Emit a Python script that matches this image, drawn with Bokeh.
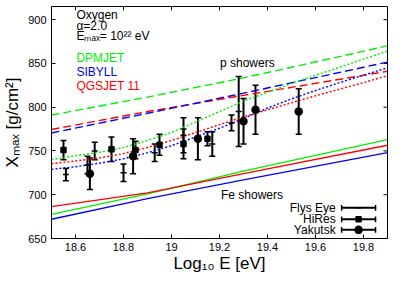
import numpy as np
from bokeh.plotting import figure
from bokeh.models import (Range1d, FixedTicker, CustomJSTickFormatter,
                          Label, Whisker, TeeHead, ColumnDataSource)
from bokeh.embed import file_html
from bokeh.resources import INLINE

# ---------------- data ----------------
X_TICKS = [18.6, 18.8, 19.0, 19.2, 19.4, 19.6, 19.8]
Y_TICKS = [650, 700, 750, 800, 850, 900]

# Fe showers (solid)
FE_X = [18.5, 18.9, 19.3, 19.9]
FE_DPMJET = [677.5, 701, 727, 763]
FE_QGSJET = [686.5, 702, 724, 756.5]
FE_SIBYLL = [672, 695.5, 717, 748]

# p showers (dashed)
P_X = [18.5, 18.9, 19.3, 19.9]
P_DPMJET = [791, 811.5, 833.5, 870]
P_QGSJET = [774.5, 795, 813.5, 841]
P_SIBYLL = [770.5, 793, 816, 851.5]

# mixed composition (dotted)
MIX_X = [18.5, 18.6, 18.7, 18.8, 18.9, 19.0, 19.1, 19.2, 19.3, 19.4, 19.5, 19.6, 19.7, 19.8, 19.9]
MIX_DPMJET = [740, 744.5, 748.5, 754, 762, 771, 783, 795, 807, 817, 827, 836.5, 845.5, 855, 864]
MIX_QGSJET = [735.5, 738.5, 742, 747, 754, 762, 771, 780, 789, 797, 805, 813, 820.5, 828, 836]
MIX_SIBYLL = [729, 732, 736, 741, 748, 756, 766, 776, 787, 799, 809.5, 819, 828, 836.5, 845]

# measurements
FLY_X = [18.56, 18.65, 18.68, 18.80, 18.93, 19.05, 19.17, 19.25, 19.28]
FLY_Y = [723, 734, 750, 725, 748, 768, 758, 782, 795]
FLY_E = [7, 10, 10, 10, 10, 20, 14, 9, 40]

HIRES_X = [18.55, 18.75, 18.85, 18.95, 19.05, 19.15]
HIRES_Y = [751, 752, 751, 757, 758, 764]
HIRES_E = [11, 14, 10, 12, 17, 8]

YAK_X = [18.66, 18.84, 19.11, 19.30, 19.35, 19.53]
YAK_Y = [724, 744, 764, 784, 797, 795]
YAK_E = [18, 20, 24, 26, 28, 26]

GREEN, BLUE, RED = "#00ee00", "#0000ff", "#ff0000"
FONT = "Liberation Sans"

# ---------------- figure ----------------
p = figure(width=399, height=275, output_backend="svg", toolbar_location=None,
           x_range=Range1d(18.5, 19.9), y_range=Range1d(650, 915),
           min_border_left=50, min_border_right=12, min_border_top=6,
           min_border_bottom=34)
p.grid.visible = False
p.outline_line_color = "black"
p.outline_line_width = 1
p.background_fill_color = "white"
p.border_fill_color = "white"

# frame-relative helper ranges for annotations
p.extra_x_ranges = {"fx": Range1d(0, 337)}
p.extra_y_ranges = {"fy": Range1d(0, 242)}

for ax in (p.xaxis[0], p.yaxis[0]):
    ax.major_tick_in = 4
    ax.major_tick_out = 0
    ax.minor_tick_line_color = None
    ax.axis_line_color = "black"
    ax.major_tick_line_color = "black"
    ax.major_label_text_font = FONT
    ax.major_label_text_color = "black"
    ax.major_label_standoff = 5
    ax.major_label_text_font_size = "11px"
    ax.axis_label_text_font = FONT
    ax.axis_label_text_font_style = "normal"
    ax.axis_label_text_font_size = "17px"
    ax.axis_label_text_color = "black"
    ax.axis_label_standoff = 3

p.xaxis[0].ticker = FixedTicker(ticks=X_TICKS)
p.xaxis[0].formatter = CustomJSTickFormatter(
    code="return (Math.round(tick*10)/10).toString();")
p.yaxis[0].ticker = FixedTicker(ticks=Y_TICKS)
p.xaxis[0].axis_label = "Log₁₀ E [eV]"
p.xaxis[0].axis_label_standoff = 0
p.xaxis[0].major_label_standoff = 4
p.yaxis[0].axis_label = "Xₘₐₓ [g/cm²]"

# mirrored inward ticks on top and right edges
p.segment(x0=X_TICKS, x1=X_TICKS, y0=[242] * len(X_TICKS), y1=[238] * len(X_TICKS),
          y_range_name="fy", line_color="black", line_width=1)
p.segment(x0=[337] * len(Y_TICKS), x1=[333] * len(Y_TICKS), y0=Y_TICKS, y1=Y_TICKS,
          x_range_name="fx", line_color="black", line_width=1)

# ---------------- model lines ----------------
for ys, c in [(FE_DPMJET, GREEN), (FE_QGSJET, RED), (FE_SIBYLL, BLUE)]:
    p.line(FE_X, ys, line_color=c, line_width=1.3)
for ys, c in [(P_DPMJET, GREEN), (P_QGSJET, RED), (P_SIBYLL, BLUE)]:
    p.line(P_X, ys, line_color=c, line_width=1.4, line_dash="8 4")
for ys, c in [(MIX_DPMJET, GREEN), (MIX_QGSJET, RED), (MIX_SIBYLL, BLUE)]:
    p.line(MIX_X, ys, line_color=c, line_width=1.4, line_dash="2 2")

# ---------------- measurements ----------------
def errbars(xs, ys, es, marker, size):
    y = np.array(ys, dtype=float)
    e = np.array(es, dtype=float)
    src = ColumnDataSource(dict(x=xs, y=ys, lo=y - e, hi=y + e))
    w = Whisker(base="x", lower="lo", upper="hi", source=src, dimension="height",
                line_color="black", line_width=2,
                upper_head=TeeHead(size=6, line_width=1.5, line_color="black"),
                lower_head=TeeHead(size=6, line_width=1.5, line_color="black"))
    p.add_layout(w)
    p.scatter("x", "y", source=src, marker=marker, size=size,
              line_color="black", fill_color="black", line_width=1.5)

errbars(FLY_X, FLY_Y, FLY_E, "dash", 6)
errbars(HIRES_X, HIRES_Y, HIRES_E, "square", 5)
errbars(YAK_X, YAK_Y, YAK_E, "circle", 7)

# ---------------- legend (manual, right-aligned text) ----------------
LEG_NAMES = ["Flys Eye", "HiRes", "Yakutsk"]
LEG_MARKERS = [("dash", 6), ("square", 5), ("circle", 7)]
LEG_FY = [32, 20, 9]
for name, (mk, sz), ly in zip(LEG_NAMES, LEG_MARKERS, LEG_FY):
    p.add_layout(Label(x=285, y=ly, x_range_name="fx", y_range_name="fy", text=name,
                       text_font=FONT, text_font_size="12px", text_align="right",
                       text_baseline="middle", text_color="black"))
    p.segment(x0=[291], y0=[ly], x1=[325], y1=[ly], line_color="black", line_width=2,
              x_range_name="fx", y_range_name="fy")
    p.segment(x0=[291, 325], y0=[ly - 3, ly - 3], x1=[291, 325], y1=[ly + 3, ly + 3],
              line_color="black", line_width=1.5, x_range_name="fx", y_range_name="fy")
    p.scatter([308], [ly], marker=mk, size=sz, line_color="black", fill_color="black",
              line_width=1.5, x_range_name="fx", y_range_name="fy")

# ---------------- texts ----------------
def lab(x, y, text, size="12px", color="black", align="left"):
    p.add_layout(Label(x=x, y=y, x_range_name="fx", y_range_name="fy", text=text,
                       text_font=FONT, text_font_size=size, text_color=color,
                       text_align=align, text_baseline="middle"))

lab(25, 233, "Oxygen")
lab(25, 222, "α=2.0")
lab(25, 211, "Eₘₐₓ= 10²² eV")
lab(25, 188, "DPMJET", color=GREEN)
lab(25, 174, "SIBYLL", color=BLUE)
lab(25, 159, "QGSJET 11", color=RED)
lab(169, 183, "p showers")
lab(170, 45, "Fe showers")

open("out.html", "w").write(file_html(p, INLINE))
